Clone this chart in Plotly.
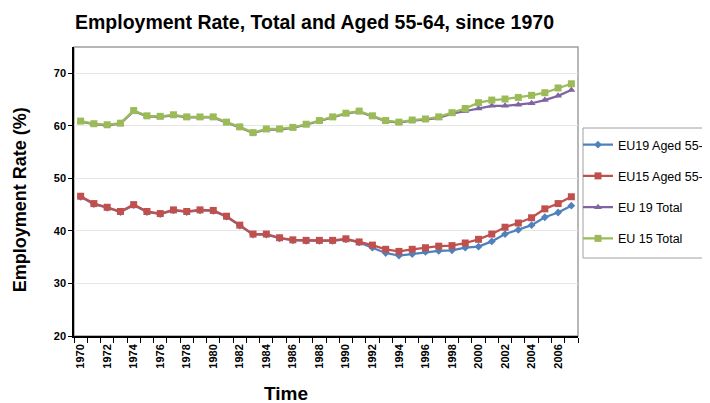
import plotly.graph_objects as go

years = list(range(1970, 2008))

eu15_total = [60.9, 60.4, 60.2, 60.5, 62.9, 61.9, 61.8, 62.1, 61.7, 61.7,
              61.7, 60.7, 59.8, 58.7, 59.4, 59.4, 59.7, 60.3, 61.0, 61.7,
              62.4, 62.8, 61.9, 61.0, 60.7, 61.1, 61.3, 61.7, 62.5, 63.3,
              64.4, 64.9, 65.1, 65.4, 65.8, 66.3, 67.2, 68.0]

eu19_total = [60.8, 60.3, 60.1, 60.4, 62.8, 61.8, 61.7, 62.0, 61.6, 61.6,
              61.6, 60.6, 59.7, 58.6, 59.3, 59.3, 59.6, 60.2, 60.9, 61.6,
              62.3, 62.7, 61.8, 60.9, 60.6, 61.0, 61.2, 61.5, 62.3, 62.8,
              63.3, 63.8, 63.8, 64.0, 64.3, 64.9, 65.7, 66.8]

eu15_aged = [46.6, 45.2, 44.5, 43.7, 45.0, 43.7, 43.3, 44.0, 43.7, 44.0,
             43.9, 42.8, 41.1, 39.4, 39.4, 38.7, 38.3, 38.2, 38.2, 38.2,
             38.5, 37.9, 37.3, 36.5, 36.1, 36.5, 36.8, 37.1, 37.2, 37.7,
             38.4, 39.4, 40.7, 41.5, 42.5, 44.2, 45.2, 46.5]

eu19_aged = [46.5, 45.1, 44.4, 43.6, 44.9, 43.6, 43.2, 43.9, 43.6, 43.9,
             43.8, 42.7, 41.0, 39.3, 39.3, 38.6, 38.2, 38.1, 38.1, 38.1,
             38.4, 37.8, 36.8, 35.8, 35.3, 35.6, 36.0, 36.2, 36.3, 36.8,
             37.0, 38.0, 39.4, 40.2, 41.1, 42.6, 43.5, 44.8]

series = [
    ("EU19 Aged 55-64", eu19_aged, "#4F81BD", "diamond", 6),
    ("EU15 Aged 55-64", eu15_aged, "#C0504D", "square", 7),
    ("EU 19 Total", eu19_total, "#8064A2", "triangle-up", 7),
    ("EU 15 Total", eu15_total, "#9BBB59", "square", 7),
]

FONT = "Liberation Sans, Arial, sans-serif"

# the page body has an 8px margin, so the figure is drawn 8px smaller
W, H = 702, 395
PW, PH = 504, 289  # plot area

fig = go.Figure()
for name, vals, color, symbol, size in series:
    fig.add_scatter(
        x=years, y=vals, name=name, mode="lines+markers", legendgroup=name,
        line=dict(color=color, width=2.25),
        marker=dict(color=color, symbol=symbol, size=size),
    )

# plot frame (grey top/right) and legend box
fig.add_shape(type="rect", xref="paper", yref="paper", x0=0, y0=0, x1=1, y1=1,
              line=dict(color="#A0A0A0", width=1.5), layer="below")
fig.add_shape(type="rect", xref="paper", yref="paper",
              x0=(575 - 66) / PW, x1=(720 - 66) / PW,
              y0=(328 - 250) / PH, y1=(328 - 120) / PH,
              line=dict(color="#A0A0A0", width=1), fillcolor="white", layer="below")

fig.update_layout(
    width=W, height=H,
    margin=dict(l=66, r=132, t=39, b=67, autoexpand=False),
    paper_bgcolor="white", plot_bgcolor="white",
    font=dict(family=FONT, color="black"),
    title=dict(text="<b>Employment Rate, Total and Aged 55-64, since 1970</b>",
               x=67 / W, xanchor="left", y=1 - 14 / H, yanchor="middle",
               font=dict(size=19.5, family=FONT, color="black")),
    legend=dict(x=1.0, xanchor="left", y=(328 - 122) / PH, yanchor="top",
                borderwidth=0, bgcolor="rgba(0,0,0,0)",
                font=dict(size=12.5, family=FONT), tracegroupgap=12),
    xaxis=dict(range=[1969.5, 2007.5], tickvals=years[::2], ticks="",
               tickangle=-90, tickfont=dict(size=11, family=FONT, weight="bold"),
               ticklabelstandoff=2,
               showgrid=False, zeroline=False, showline=True, linecolor="black", linewidth=1.5,
               minor=dict(tick0=1969.5, dtick=1, ticks="outside", ticklen=5,
                          tickcolor="black", showgrid=False)),
    yaxis=dict(range=[20, 75], dtick=10, tickfont=dict(size=11, family=FONT, weight="bold"),
               showgrid=True, gridcolor="#E6E6E6", gridwidth=1, zeroline=False,
               showline=True, linecolor="black", linewidth=1.5,
               ticks="outside", ticklen=4, tickcolor="black"),
    annotations=[
        dict(text="<b>Employment Rate (%)</b>", xref="paper", yref="paper",
             x=-54 / PW, y=0.47, textangle=-90, showarrow=False,
             xanchor="center", yanchor="middle", font=dict(size=18, family=FONT)),
        dict(text="<b>Time</b>", xref="paper", yref="paper",
             x=(286 - 74) / PW, y=-(393 - 336) / PH, showarrow=False,
             xanchor="center", yanchor="middle", font=dict(size=19, family=FONT)),
    ],
)

fig.write_html("out.html")
